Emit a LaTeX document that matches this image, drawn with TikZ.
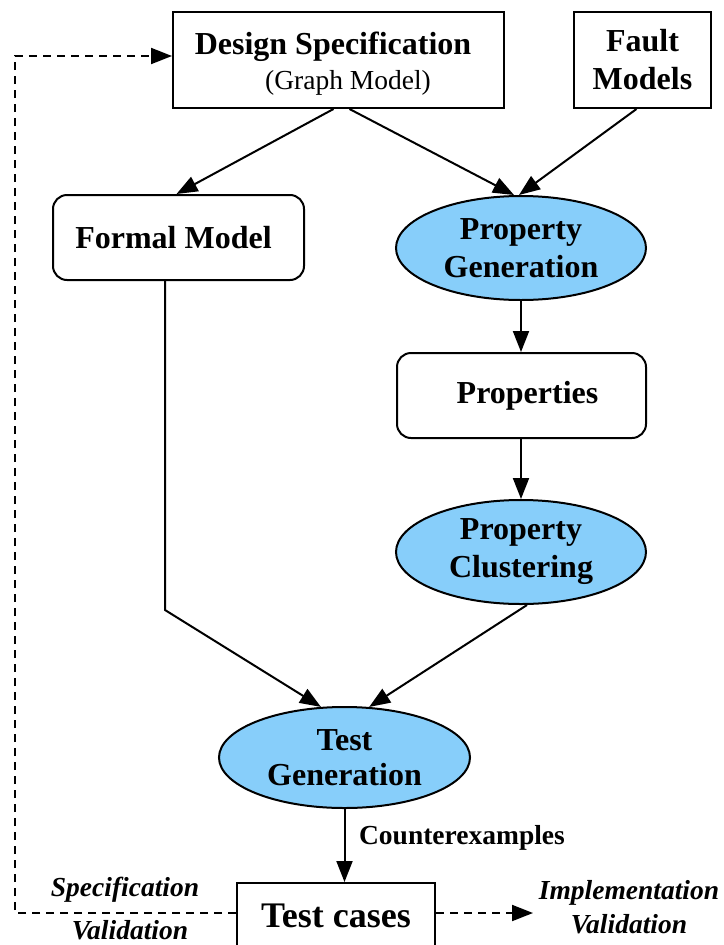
\documentclass[tikz,border=0pt]{standalone}
\usepackage{fontspec}
\setmainfont{Liberation Serif}
\usetikzlibrary{arrows.meta,shapes.geometric,calc}
\definecolor{procblue}{RGB}{135,206,250}

\begin{document}
\begin{tikzpicture}[x=1pt,y=-1pt,
  every node/.style={font=\fontsize{32}{38}\selectfont\bfseries, align=center, inner sep=0pt},
  plainbox/.style={draw, line width=2pt},
  roundbox/.style={draw, line width=2pt, rounded corners=14pt,
    minimum width=250pt, minimum height=85pt},
  process/.style={ellipse, draw, line width=2pt, fill=procblue,
    minimum width=250pt, minimum height=104pt},
  flow/.style={line width=2pt, -{Triangle[length=21pt,width=16pt]}},
  feedback/.style={flow, dash pattern=on 8pt off 6pt},
  smalltext/.style={font=\fontsize{27.5}{33}\selectfont\bfseries},
  note/.style={font=\fontsize{27.5}{33}\selectfont\bfseries\itshape}
]
\clip (0,0) rectangle (723,945);

% inputs
\node[plainbox, minimum width=331pt, minimum height=96pt] (ds) at (338.5,60) {};
\node (dstitle) at (333,47) {Design Specification};
\node[font=\fontsize{27.5}{33}\selectfont] (dssub) at (348,83) {(Graph Model)};
\node[plainbox, minimum width=137pt, minimum height=96pt] (fault) at (642.5,60) {Fault\\Models};

% modelling and property flow
\node[roundbox, minimum width=251pt] (fm) at (178.5,237.5) {\hspace*{-10pt}Formal Model};
\node[process] (pg) at (521,248) {Property\\Generation};
\node[roundbox, minimum width=249pt] (props) at (521.5,395.5) {\hspace*{12pt}Properties};
\node[process] (pc) at (521,552) {Property\\Clustering};
\node[process, minimum width=251pt, minimum height=101pt,
  font=\fontsize{32}{35}\selectfont\bfseries] (tg) at (344.5,757.5) {Test\\Generation};
\node[plainbox, minimum width=198pt, minimum height=66pt, font=\fontsize{36}{40}\selectfont\bfseries]
  (tc) at (336,916) {Test cases};

% labels
\node[smalltext] (cex) at (462,838) {Counterexamples};
\node[note] (spec1) at (125,890) {Specification};
\node[note] (spec2) at (130,930) {Validation};
\node[note] (impl1) at (629,893) {Implementation};
\node[note] (impl2) at (629,924) {Validation};
\coordinate (fbend) at (165,610);
\coordinate (implend) at (533,913);
\coordinate (loopbottom) at (15,913);
\coordinate (looptop) at (15,56);

% connectors
\draw[flow] ([xshift=-5pt]ds.south) -- ([xshift=-2pt]fm.north);
\draw[flow] ([xshift=11pt]ds.south) -- ([xshift=-7pt]pg.north);
\draw[flow] ([xshift=-6pt]fault.south) -- ([xshift=-2pt]pg.north);
\draw[flow] (pg.south) -- (props.north -| pg.south);
\draw[flow] (props.south -| pg.south) -- (pc.north);
\draw[flow] (fm.south -| fbend) -- (fbend) -- (tg.115);
\draw[flow] ([xshift=6pt]pc.south) -- (tg.64);
\draw[flow] (tg.south) -- (tc.north -| tg.south);
\draw[feedback] (tc.west |- loopbottom) -- (loopbottom) -- (looptop) -- (ds.west |- looptop);
\draw[feedback] (tc.east |- implend) -- (implend);
\end{tikzpicture}
\end{document}
